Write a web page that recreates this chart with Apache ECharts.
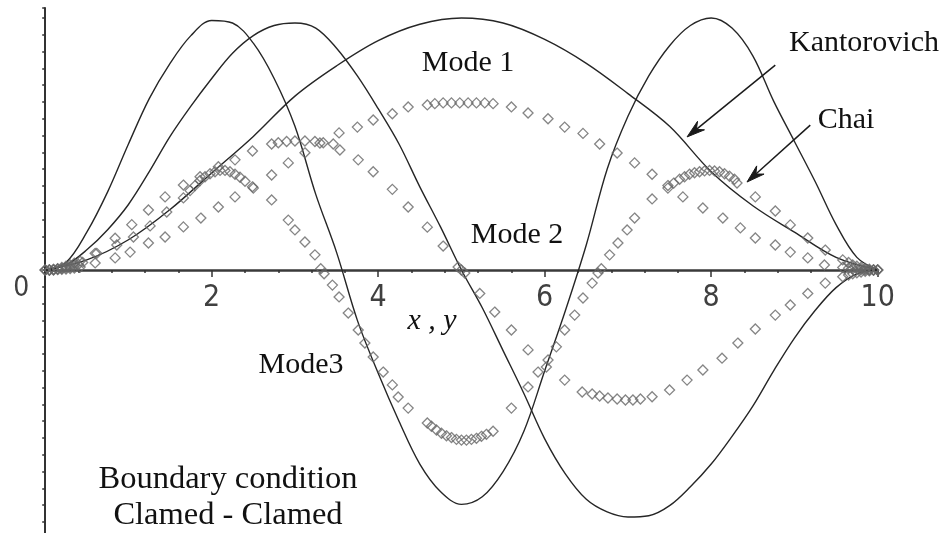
<!DOCTYPE html>
<html>
<head>
<meta charset="utf-8">
<script src="https://cdn.jsdelivr.net/npm/echarts@6/dist/echarts.min.js"></script>
<style>
  html, body { margin: 0; padding: 0; background: #ffffff; }
  #chart { width: 951px; height: 533px; }
</style>
</head>
<body>
<div id="chart"></div>
<script>
// Mode shapes of a clamped-clamped member, normalised deflection along x , y

// Kantorovich solution, mode 1 (sampled every 0.5)
const kantX1 = [0, 0.5, 1, 1.5, 2, 2.5, 3, 3.5, 4, 4.5, 5, 5.5, 6, 6.5, 7, 7.5, 8, 8.5, 9, 9.5, 10];
const kantMode1 = [0, 0.04, 0.12, 0.24, 0.385, 0.53, 0.69, 0.81, 0.91, 0.975, 1.0,
                   0.98, 0.915, 0.82, 0.70, 0.57, 0.39, 0.255, 0.15, 0.05, 0];

// Kantorovich solution, modes 2 and 3 (sampled every 0.25)
const kantX23 = [0, 0.25, 0.5, 0.75, 1, 1.25, 1.5, 1.75, 2, 2.25, 2.5, 2.75, 3, 3.25, 3.5, 3.75, 4, 4.25, 4.5, 4.75,
                 5, 5.25, 5.5, 5.75, 6, 6.25, 6.5, 6.75, 7, 7.25, 7.5, 7.75, 8, 8.25, 8.5, 8.75, 9, 9.25, 9.5, 9.75, 10];
const kantMode2 = [0, 0.02, 0.08, 0.16, 0.26, 0.39, 0.53, 0.65, 0.76, 0.86, 0.93, 0.97, 0.98, 0.96, 0.88, 0.77, 0.64, 0.50, 0.33, 0.17,
                   0, -0.15, -0.32, -0.49, -0.67, -0.81, -0.91, -0.96, -0.98, -0.975, -0.935, -0.86, -0.77, -0.66, -0.54, -0.40, -0.27, -0.16, -0.07, -0.015, 0];
const kantMode3 = [0, 0.03, 0.15, 0.31, 0.50, 0.68, 0.82, 0.93, 0.99, 0.98, 0.90, 0.76, 0.57, 0.30, 0.07, -0.20, -0.41, -0.60, -0.77, -0.88,
                   -0.93, -0.90, -0.80, -0.64, -0.40, -0.16, 0.10, 0.40, 0.61, 0.77, 0.89, 0.97, 1.0, 0.96, 0.85, 0.67, 0.51, 0.35, 0.18, 0.05, 0];

// Chai solution points [x, w]
const chaiMode1 = [
  [0, 0], [0.05, 0], [0.1, 0], [0.15, 0.002], [0.2, 0.003], [0.25, 0.004], [0.3, 0.006], [0.35, 0.008],
  [0.42, 0.012], [0.6, 0.028],
  [0.84, 0.048], [1.02, 0.071], [1.24, 0.107], [1.44, 0.131], [1.66, 0.171], [1.87, 0.206], [2.08, 0.25],
  [2.28, 0.29], [2.49, 0.33], [2.72, 0.377], [2.92, 0.425], [3.12, 0.465], [3.30, 0.504], [3.53, 0.544],
  [3.75, 0.567], [3.94, 0.595], [4.17, 0.62], [4.36, 0.647], [4.59, 0.655], [4.68, 0.66], [4.78, 0.663],
  [4.88, 0.663], [4.98, 0.663], [5.08, 0.663], [5.18, 0.663], [5.28, 0.663], [5.38, 0.66], [5.6, 0.647],
  [5.8, 0.623], [6.04, 0.60], [6.24, 0.567], [6.46, 0.542], [6.66, 0.50], [6.87, 0.464], [7.08, 0.425],
  [7.29, 0.38], [7.48, 0.335], [7.66, 0.29], [7.90, 0.246], [8.14, 0.206], [8.35, 0.167], [8.53, 0.127],
  [8.77, 0.099], [8.95, 0.071], [9.16, 0.048], [9.36, 0.02], [9.58, 0.01], [9.65, 0.007], [9.7, 0.005],
  [9.75, 0.004], [9.8, 0.002], [9.85, 0.001], [9.9, 0], [9.95, 0], [10, 0]
];
const chaiMode2 = [
  [0, 0], [0.05, 0], [0.1, 0.002], [0.15, 0.004], [0.2, 0.006], [0.25, 0.009], [0.3, 0.012], [0.35, 0.017],
  [0.4, 0.022], [0.45, 0.03], [0.6, 0.066],
  [0.84, 0.126], [1.04, 0.18], [1.24, 0.238], [1.44, 0.29], [1.66, 0.337], [1.86, 0.37], [2.08, 0.41],
  [2.28, 0.437], [2.49, 0.472], [2.72, 0.50], [2.8, 0.505], [2.9, 0.51], [3.0, 0.512], [3.12, 0.512],
  [3.24, 0.51], [3.34, 0.505], [3.46, 0.50], [3.54, 0.476], [3.76, 0.437], [3.94, 0.39], [4.17, 0.32],
  [4.36, 0.25], [4.59, 0.17], [4.78, 0.095], [4.96, 0.012], [5.0, 0], [5.04, -0.012], [5.22, -0.093],
  [5.40, -0.167], [5.6, -0.238], [5.80, -0.317], [6.02, -0.385], [6.24, -0.437], [6.45, -0.484],
  [6.57, -0.492], [6.66, -0.5], [6.76, -0.508], [6.87, -0.512], [6.97, -0.516], [7.06, -0.516],
  [7.15, -0.512], [7.29, -0.503], [7.5, -0.476], [7.71, -0.437], [7.90, -0.397], [8.13, -0.35],
  [8.32, -0.29], [8.53, -0.234], [8.77, -0.179], [8.95, -0.139], [9.16, -0.093], [9.37, -0.052],
  [9.58, -0.027], [9.65, -0.02], [9.7, -0.015], [9.75, -0.011], [9.8, -0.008], [9.85, -0.005],
  [9.9, -0.003], [9.95, 0], [10, 0]
];
const chaiMode3 = [
  [0, 0], [0.05, 0], [0.1, 0.002], [0.15, 0.005], [0.2, 0.01], [0.25, 0.015], [0.3, 0.02], [0.35, 0.027],
  [0.42, 0.035], [0.62, 0.066],
  [0.86, 0.099], [1.06, 0.131], [1.26, 0.175], [1.46, 0.23], [1.66, 0.286], [1.74, 0.315], [1.80, 0.335],
  [1.86, 0.355], [1.92, 0.37], [1.98, 0.382], [2.04, 0.39], [2.10, 0.395], [2.16, 0.395], [2.22, 0.39],
  [2.28, 0.38], [2.34, 0.368], [2.40, 0.352], [2.50, 0.325], [2.72, 0.278], [2.92, 0.198], [3.0, 0.159],
  [3.12, 0.111], [3.24, 0.06], [3.31, 0.005], [3.35, -0.015], [3.45, -0.06], [3.53, -0.107], [3.64, -0.171],
  [3.76, -0.238], [3.84, -0.29], [3.94, -0.345], [4.06, -0.405], [4.17, -0.456], [4.24, -0.504],
  [4.36, -0.548], [4.59, -0.607], [4.64, -0.62], [4.70, -0.635], [4.76, -0.648], [4.82, -0.658],
  [4.88, -0.665], [4.94, -0.672], [5.0, -0.675], [5.06, -0.675], [5.12, -0.672], [5.18, -0.668],
  [5.24, -0.66], [5.30, -0.652], [5.38, -0.64], [5.60, -0.548], [5.80, -0.464], [5.92, -0.405],
  [6.04, -0.357], [6.14, -0.305], [6.24, -0.238], [6.36, -0.179], [6.46, -0.111], [6.57, -0.052],
  [6.64, -0.012], [6.68, 0.005], [6.78, 0.06], [6.88, 0.107], [6.99, 0.159], [7.08, 0.206], [7.29, 0.282],
  [7.48, 0.325], [7.55, 0.345], [7.62, 0.36], [7.68, 0.37], [7.74, 0.38], [7.80, 0.386], [7.86, 0.39],
  [7.92, 0.393], [7.98, 0.395], [8.04, 0.393], [8.10, 0.39], [8.16, 0.382], [8.22, 0.372], [8.28, 0.36],
  [8.31, 0.345], [8.53, 0.29], [8.77, 0.234], [8.95, 0.179], [9.16, 0.127], [9.37, 0.079], [9.58, 0.04],
  [9.65, 0.03], [9.7, 0.02], [9.75, 0.015], [9.8, 0.01], [9.85, 0.006], [9.9, 0.003], [9.95, 0], [10, 0]
];

// Axis settings
const xLimits = [0, 10];
const xTickStep = 2;
const yTickStep = 1 / 15;
const yLimits = [-16 / 15, 1.04];

// Plot frame (pixels)
const frame = { left: 45.2, right: 73.3, top: 7.9, bottom: -5.8, height: 533 };
const plotH = frame.height - frame.top - frame.bottom;
const pxPerUnit = plotH / (yLimits[1] - yLimits[0]);
// the x axis is drawn through w = 0: shift it up from the bottom edge of the frame
const xAxisOffset = -(0 - yLimits[0]) * pxPerUnit;

const pair = (xs, ys) => xs.map((x, i) => [x, ys[i]]);

const chart = echarts.init(document.getElementById('chart'), null, { renderer: 'canvas' });

const solidLine = (name, data) => ({
  name, type: 'line', data, smooth: 0.35, showSymbol: false, z: 2,
  lineStyle: { color: '#262626', width: 1.4 }
});
const diamonds = (name, data) => ({
  name, type: 'scatter', data, symbol: 'diamond', symbolSize: 10, z: 3,
  itemStyle: { color: 'rgba(255,255,255,0)', borderColor: '#666666', borderWidth: 1.3 }
});

const digitFont = "'Liberation Sans Narrow', 'Arial Narrow', 'DejaVu Sans Condensed', 'Liberation Sans', sans-serif";

chart.setOption({
  animation: false,
  backgroundColor: '#ffffff',
  grid: { left: frame.left, right: frame.right, top: frame.top, bottom: frame.bottom, containLabel: false, outerBoundsMode: 'none' },
  xAxis: {
    type: 'value', min: xLimits[0], max: xLimits[1], interval: xTickStep,
    position: 'bottom', offset: xAxisOffset,
    name: 'x , y', nameLocation: 'middle', nameGap: 36, nameMoveOverlap: false,
    nameTextStyle: { fontFamily: 'Liberation Serif', fontStyle: 'italic', fontSize: 30, color: '#111', padding: [0, 59, 0, 0] },
    axisLine: { onZero: false, lineStyle: { color: '#3a3a3a', width: 2.5 } },
    axisTick: { show: true, length: 7, lineStyle: { color: '#333', width: 1.5 } },
    minorTick: { show: true, splitNumber: 5, length: 3, lineStyle: { color: '#333', width: 1.5 } },
    axisLabel: {
      showMinLabel: false, margin: 13,
      fontFamily: digitFont, fontSize: 30, color: '#404040'
    },
    splitLine: { show: false }
  },
  yAxis: {
    type: 'value', min: yLimits[0], max: yLimits[1], interval: yTickStep,
    axisLine: { show: true, lineStyle: { color: '#333', width: 2 } },
    axisTick: { show: true, length: 3, lineStyle: { color: '#333', width: 1.5 } },
    axisLabel: {
      margin: 16,
      formatter: v => (Math.abs(v) < 1e-9 ? '{o|0}' : ''),
      rich: { o: { fontFamily: digitFont, fontSize: 28, color: '#404040', padding: [38, 0, 0, 0] } }
    },
    splitLine: { show: false }
  },
  series: [
    solidLine('Kantorovich mode 1', pair(kantX1, kantMode1)),
    solidLine('Kantorovich mode 2', pair(kantX23, kantMode2)),
    solidLine('Kantorovich mode 3', pair(kantX23, kantMode3)),
    diamonds('Chai mode 1', chaiMode1),
    diamonds('Chai mode 2', chaiMode2),
    diamonds('Chai mode 3', chaiMode3)
  ]
});

// Pointer arrows from the method names to their curves, in data coordinates
const pointers = [
  { from: [8.77, 0.813], to: [7.71, 0.528] },
  { from: [9.19, 0.575], to: [8.43, 0.349] }
];
const arrowShapes = [];
pointers.forEach(p => {
  const a = chart.convertToPixel({ gridIndex: 0 }, p.from);
  const b = chart.convertToPixel({ gridIndex: 0 }, p.to);
  const dx = b[0] - a[0], dy = b[1] - a[1];
  const len = Math.hypot(dx, dy);
  const ux = dx / len, uy = dy / len, nx = -uy, ny = ux;
  const headLen = 18, halfW = 5.5, notch = 12;
  const base = [b[0] - ux * headLen, b[1] - uy * headLen];
  const notchPt = [b[0] - ux * notch, b[1] - uy * notch];
  arrowShapes.push({
    type: 'line', silent: true, z: 10,
    shape: { x1: a[0], y1: a[1], x2: notchPt[0], y2: notchPt[1] },
    style: { stroke: '#1a1a1a', lineWidth: 1.5 }
  });
  arrowShapes.push({
    type: 'polygon', silent: true, z: 10,
    shape: { points: [b, [base[0] + nx * halfW, base[1] + ny * halfW], notchPt, [base[0] - nx * halfW, base[1] - ny * halfW]] },
    style: { fill: '#1a1a1a', stroke: '#1a1a1a', lineWidth: 1 }
  });
});

const serif = 'Liberation Serif';
const note = (text, x, y, size) => ({
  type: 'text', silent: true, z: 10, x, y,
  style: { text, fill: '#111', font: `${size || 30}px '${serif}'`, align: 'center', verticalAlign: 'middle' }
});

chart.setOption({
  graphic: [
    ...arrowShapes,
    note('Mode 1', 468, 63),
    note('Mode 2', 517, 235),
    note('Mode3', 301, 365),
    note('Kantorovich', 864, 43),
    note('Chai', 846, 120),
    note('Boundary condition', 228, 479, 32.5),
    note('Clamed - Clamed', 228, 515, 32.5)
  ]
});
</script>
</body>
</html>
